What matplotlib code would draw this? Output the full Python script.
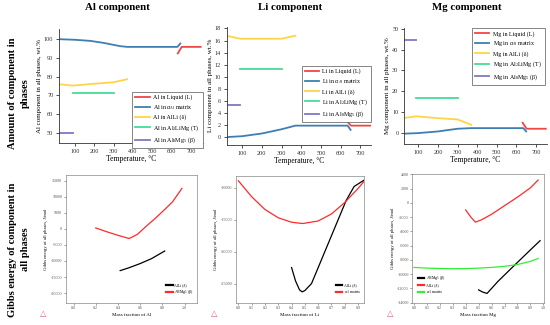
import matplotlib
matplotlib.use("Agg")
import matplotlib.pyplot as plt

plt.rcParams['font.family'] = ['Liberation Serif', 'DejaVu Serif']
plt.rcParams['mathtext.fontset'] = 'custom'
plt.rcParams['mathtext.rm'] = 'Liberation Serif'
plt.rcParams['mathtext.it'] = 'Liberation Serif:italic'
plt.rcParams['axes.unicode_minus'] = False

# ---------------- data: top row (temperature, wt.%) ----------------
T_liq = [632, 652, 750]
T_mat = [20, 100, 180, 250, 333, 370, 630, 645]
T_mat2 = [20, 100, 200, 300, 370, 635, 650]
T_del = [20, 90, 200, 300, 370]
T_del_li = [20, 90, 300, 370]
T_T = [90, 300]
T_beta = [20, 90]

al_liq = [92.4, 95.9, 95.9]
al_mat = [100.0, 99.7, 99.1, 98.0, 96.3, 95.9, 95.9, 97.7]
al_del = [75.9, 75.2, 76.2, 77.0, 78.6]
al_T = [71.4, 71.4]
al_beta = [50.0, 50.0]

li_liq = [2.6, 1.9, 1.9]
li_mat = [0.0, 0.15, 0.6, 1.3, 1.9, 1.9, 1.2]
li_del = [16.8, 16.3, 16.3, 16.8]
li_T = [11.3, 11.3]
li_beta = [5.3, 5.3]

mg_liq = [4.8, 1.9, 1.9]
mg_mat = [-0.5, -0.2, 0.6, 1.9, 2.2, 2.2, 0.6]
mg_del = [7.0, 7.9, 7.0, 6.4, 3.8]
mg_T = [16.5, 16.5]
mg_beta = [44.5, 44.5]

# ---------------- data: bottom row (Gibbs energy, J/mol) ----------------
al_x_beta = [0.20, 0.30, 0.40, 0.50, 0.575, 0.65, 0.733, 0.81, 0.89, 0.975]
al_g_beta = [300, -900, -2000, -3000, -1700, 700, 3200, 5700, 8400, 12600]
al_x_del = [0.42, 0.50, 0.60, 0.70, 0.82]
al_g_del = [-13000, -12100, -10800, -9300, -6900]

li_x_mat = [0.0, 0.1, 0.2, 0.3, 0.4, 0.485, 0.6, 0.7, 0.8, 0.9, 0.945]
li_g_mat = [-8900, -11400, -13400, -14700, -15400, -15600, -15200, -14100, -12300, -10100, -9000]
li_x_del = [0.40, 0.43, 0.46, 0.48, 0.50, 0.55, 0.60, 0.70, 0.81, 0.87, 0.945]
li_g_del = [-22500, -24600, -26000, -26300, -26100, -25000, -22500, -17500, -12000, -9800, -8800]

mg_x_del = [0.40, 0.44, 0.475, 0.52, 0.60, 0.70, 0.80, 0.90, 0.96]
mg_g_del = [-1000, -2000, -2700, -2400, -1600, -400, 800, 2100, 3200]
mg_x_beta = [0.50, 0.53, 0.565, 0.65, 0.78, 0.90, 0.975]
mg_g_beta = [-12200, -12500, -12700, -11000, -8700, -6600, -5300]
mg_x_mat = [0.0, 0.1, 0.2, 0.3, 0.4, 0.5, 0.6, 0.7, 0.8, 0.9, 0.96]
mg_g_mat = [-9050, -9150, -9200, -9230, -9220, -9150, -9050, -8900, -8650, -8200, -7800]

temp_ticks = [100, 200, 300, 400, 500, 600, 700]

C_RED = '#f04545'
C_BLUE = '#3d7fb3'
C_YEL = '#ffd447'
C_GRN = '#45dc9a'
C_PUR = '#7f78c2'

fig = plt.figure(figsize=(5.5, 3.25), dpi=100)

def top_axes(rect, el, liq, mat, Tm, dl, Td, tt, beta, xlim, ylim, yticks, leg_loc, leg_anchor):
    ax = fig.add_axes(rect)
    lw = 1.3
    ax.plot(T_liq, liq, color=C_RED, lw=lw, label=f'{el} in Liquid (L)')
    ax.plot(Tm, mat, color=C_BLUE, lw=lw, label=el + r' in $\alpha_{Al}$ matrix')
    ax.plot(Td, dl, color=C_YEL, lw=lw, label=f'{el} in AlLi (δ)')
    ax.plot(T_T, tt, color=C_GRN, lw=lw, label=el + r' in Al$_2$LiMg (T)')
    ax.plot(T_beta, beta, color=C_PUR, lw=lw, label=el + r' in Al$_8$Mg$_5$ (β)')
    ax.set_xlim(*xlim)
    ax.set_ylim(*ylim)
    ax.set_xticks(temp_ticks)
    ax.set_yticks(yticks)
    for s in ['top', 'right']:
        ax.spines[s].set_visible(False)
    for s in ['left', 'bottom']:
        ax.spines[s].set_linewidth(0.6)
        ax.spines[s].set_color('#333333')
    ax.tick_params(labelsize=4.5, length=2.5, width=0.6, pad=1.5, colors='#333333')
    ax.set_xlabel('Temperature, °C', fontsize=5.5, labelpad=1)
    ax.set_ylabel(f'{el} component in all phases, wt.%', fontsize=5, labelpad=1.5)
    leg = ax.legend(loc=leg_loc, bbox_to_anchor=leg_anchor, fontsize=4.3, frameon=True,
                    fancybox=False, edgecolor='#555555', framealpha=1, handlelength=2.4,
                    labelspacing=0.45, borderpad=0.5, handletextpad=0.6, borderaxespad=0)
    leg.get_frame().set_linewidth(0.5)
    return ax

top_axes([0.107, 0.560, 0.262, 0.351], 'Al', al_liq, al_mat, T_mat, al_del, T_del,
         al_T, al_beta, (17, 762), (44.5, 105.5), [50, 60, 70, 80, 90, 100],
         'upper left', (0.51, 0.45))
top_axes([0.412, 0.554, 0.262, 0.364], 'Li', li_liq, li_mat, T_mat2, li_del, T_del_li,
         li_T, li_beta, (21, 752), (-1.3, 18.3), [0, 2, 4, 6, 8, 10, 12, 14, 16, 18],
         'upper left', (0.52, 0.67))
top_axes([0.7345, 0.556, 0.26, 0.358], 'Mg', mg_liq, mg_mat, T_mat2, mg_del, T_del,
         mg_T, mg_beta, (27, 756), (-5.6, 50.5), [0, 10, 20, 30, 40, 50],
         'upper right', (0.985, 1.0))

def bottom_axes(rect, xlim, ylim, xticks, yticks, xlabel, series, leg_loc, leg_anchor):
    ax = fig.add_axes(rect)
    for xs, ys, c, lab in series:
        ax.plot(xs, ys, color=c, lw=0.9, label=lab)
    ax.set_xlim(*xlim)
    ax.set_ylim(*ylim)
    ax.set_xticks(xticks)
    ax.set_xticklabels([f'{v:.1f}' for v in xticks])
    ax.set_yticks(yticks)
    ax.set_yticklabels([str(v) for v in yticks])
    for s in ax.spines.values():
        s.set_linewidth(0.5)
        s.set_color('#888888')
    ax.tick_params(labelsize=3, length=1.5, width=0.4, pad=1, colors='#555555')
    ax.set_xlabel(xlabel, fontsize=3.6, labelpad=2)
    ax.set_ylabel('Gibbs energy of all phases, J/mol', fontsize=3.3, labelpad=2)
    leg = ax.legend(loc=leg_loc, bbox_to_anchor=leg_anchor, fontsize=2.8, frameon=False,
                    handlelength=1.6, labelspacing=0.3, handletextpad=0.5, borderaxespad=0)
    for h in leg.get_lines():
        h.set_linewidth(1.6)
    return ax

bottom_axes([0.1195, 0.0686, 0.2385, 0.393], (-0.07, 1.11), (-23000, 16800),
            [0.0, 0.2, 0.4, 0.6, 0.8, 1.0],
            [15000, 10000, 5000, 0, -5000, -10000, -15000, -20000],
            'Mass fraction of Al',
            [(al_x_del, al_g_del, 'black', 'AlLi (δ)'),
             (al_x_beta, al_g_beta, '#ff2a2a', r'Al$_8$Mg$_5$ (β)')],
            'lower right', (0.99, 0.04))
bottom_axes([0.4285, 0.0686, 0.2335, 0.391], (-0.02, 0.945), (-28000, -8100),
            [0.0, 0.1, 0.2, 0.3, 0.4, 0.5, 0.6, 0.7, 0.8, 0.9],
            [-10000, -15000, -20000, -25000],
            'Mass fraction of Li',
            [(li_x_del, li_g_del, 'black', 'AlLi (δ)'),
             (li_x_mat, li_g_mat, '#ff2a2a', r'$\alpha_{Al}$ matrix')],
            'lower right', (0.99, 0.04))
bottom_axes([0.7496, 0.0686, 0.2394, 0.395], (-0.013, 1.005), (-14000, 4000),
            [0.0, 0.1, 0.2, 0.3, 0.4, 0.5, 0.6, 0.7, 0.8, 0.9, 1.0],
            [4000, 2000, 0, -2000, -4000, -6000, -8000, -10000, -12000, -14000],
            'Mass fraction Mg',
            [(mg_x_beta, mg_g_beta, 'black', r'Al$_8$Mg$_5$ (β)'),
             (mg_x_del, mg_g_del, '#ff2a2a', 'AlLi (δ)'),
             (mg_x_mat, mg_g_mat, '#33ee33', r'$\alpha_{Al}$ matrix')],
            'lower left', (0.03, 0.04))

# titles and row labels
for x, t in [(0.213, 'Al component'), (0.527, 'Li component'), (0.849, 'Mg component')]:
    fig.text(x, 0.977, t, ha='center', va='center', fontsize=7.8, fontweight='bold')
fig.text(0.035, 0.714, 'Amount of component in\nphases', rotation=90, ha='center',
         va='center', fontsize=7.6, fontweight='bold', multialignment='center', linespacing=1.55)
fig.text(0.035, 0.232, 'Gibbs energy of component in\nall phases', rotation=90, ha='center',
         va='center', fontsize=7.6, fontweight='bold', multialignment='center', linespacing=1.55)

# Thermo-Calc logos
for x in [0.079, 0.39, 0.71]:
    fig.text(x, 0.035, '△', ha='center', va='center', fontsize=6, color='#e06090',
             family=['DejaVu Sans'])

fig.savefig('out.png', dpi=100)
